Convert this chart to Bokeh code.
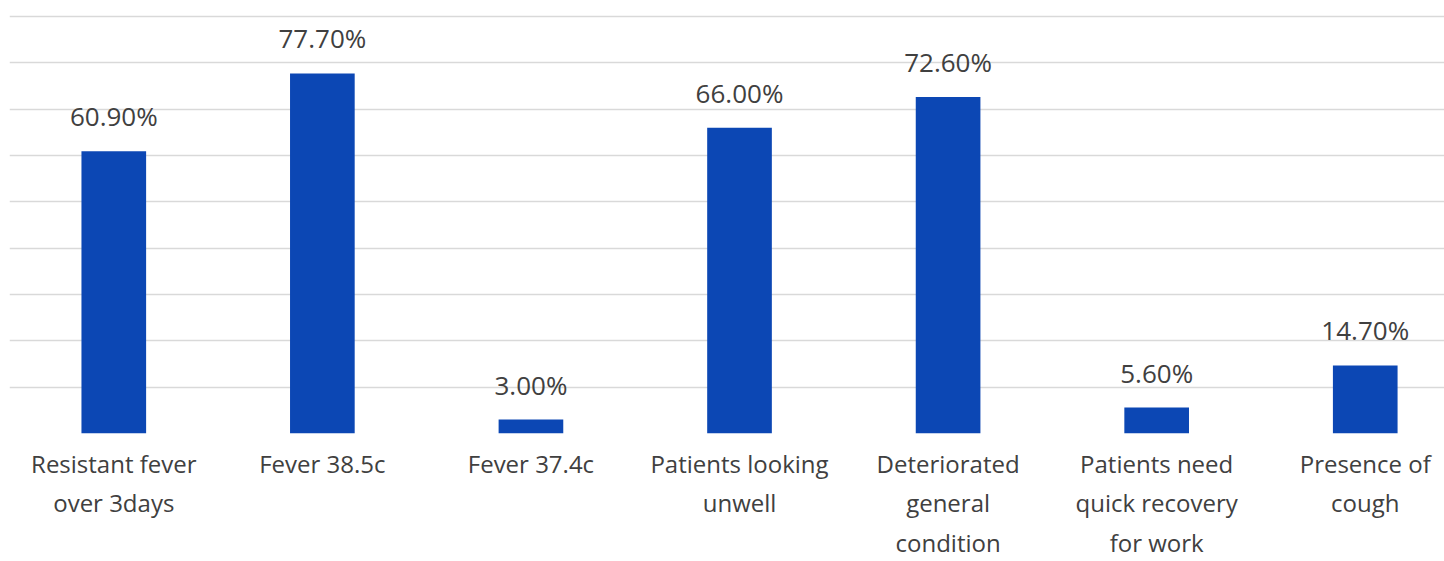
from bokeh.plotting import figure
from bokeh.models import Range1d, FixedTicker, ColumnDataSource
from bokeh.core.properties import value
from bokeh.embed import file_html
from bokeh.resources import INLINE

categories = ["Resistant fever\nover 3days", "Fever 38.5c", "Fever 37.4c",
              "Patients looking\nunwell", "Deteriorated\ngeneral\ncondition",
              "Patients need\nquick recovery\nfor work", "Presence of\ncough"]
values = [60.9, 77.7, 3.0, 66.0, 72.6, 5.6, 14.7]
labels = ["60.90%", "77.70%", "3.00%", "66.00%", "72.60%", "5.60%", "14.70%"]
grid_ticks = [0, 10, 20, 30, 40, 50, 60, 70, 80, 90]

xs = [i + 0.5 for i in range(len(categories))]
src = ColumnDataSource(dict(x=xs, top=values, label=labels))

FONT = "Open Sans"
p = figure(width=1444, height=561, output_backend="svg", toolbar_location=None,
           x_range=Range1d(0, 6.88), y_range=Range1d(0, 93.45),
           min_border_left=9, min_border_right=0, min_border_top=0, min_border_bottom=0)
p.outline_line_color = None
p.background_fill_color = "white"
p.border_fill_color = "white"

p.vbar(x="x", top="top", bottom=0, width=0.31, source=src,
       fill_color="#0c47b4", line_color=None)
p.text(x="x", y="top", text="label", source=src, text_align="center",
       text_baseline="alphabetic", y_offset=-35, text_font=value(FONT),
       text_font_size="26px", text_color="#404040")

p.yaxis.visible = False
p.ygrid.ticker = FixedTicker(ticks=grid_ticks)
p.ygrid.grid_line_color = "#d9d9d9"
p.ygrid.grid_line_width = 1.5
p.xgrid.grid_line_color = None

p.xaxis.ticker = FixedTicker(ticks=xs)
p.xaxis.major_label_overrides = {x: c for x, c in zip(xs, categories)}
p.xaxis.axis_line_color = None
p.xaxis.major_tick_line_color = None
p.xaxis.minor_tick_line_color = None
p.xaxis.major_label_standoff = 7
p.xaxis.major_label_text_font = FONT
p.xaxis.major_label_text_font_size = "24px"
p.xaxis.major_label_text_color = "#404040"

open("out.html", "w").write(file_html(p, INLINE))
